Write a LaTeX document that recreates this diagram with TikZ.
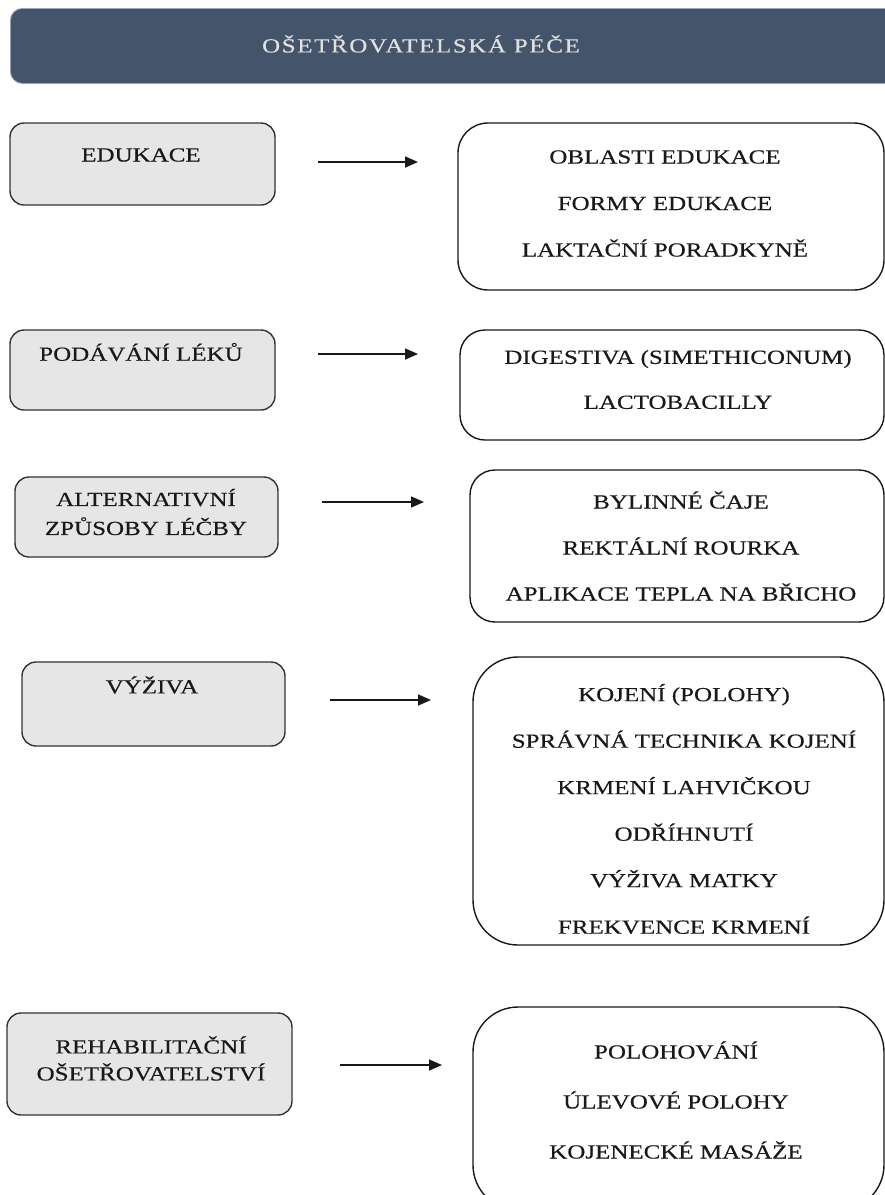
\documentclass[tikz,border=0pt]{standalone}
\usepackage{fontspec}
\setmainfont{Liberation Serif}[FakeStretch=1.25, FakeBold=0.4]
\usetikzlibrary{arrows.meta}
\definecolor{hlavicka}{HTML}{44546A}
\definecolor{okrajhl}{HTML}{8EA6C4}
\definecolor{sedabox}{HTML}{E7E6E6}

\begin{document}
\begin{tikzpicture}[x=1pt,y=-1pt,
	hlava/.style={fill=hlavicka, draw=okrajhl, line width=0.8pt, rounded corners=12pt},
	nadpis/.style={text=black!12, font=\fontsize{20}{24}\selectfont\addfontfeature{LetterSpace=8}},
	levy/.style={draw=black!80, fill=sedabox, line width=1.4pt, rounded corners=14pt},
	pravy/.style={draw=black!90, line width=1.4pt},
	popis/.style={text=black!90, align=center, font=\fontsize{20}{29}\selectfont},
	seznam/.style={text=black!90, align=center, font=\fontsize{20}{46.5}\selectfont},
	sipka/.style={draw=black!90, line width=1.6pt, -{Triangle[length=13pt,width=11pt]}}]
	\useasboundingbox (0,0) rectangle (885,1195);

	% Hlavicka
		\node[hlava, minimum width=920pt, minimum height=75pt, anchor=north west] (hlavicka) at (10,8) {};
		\node[nadpis] (nazev) at (421,44) {OŠETŘOVATELSKÁ PÉČE};

	% Edukace
		\node[levy, minimum width=265pt, minimum height=82pt] (edukace) at (142.5,164) {};
		\node[popis] (edukace-t) at (141,155) {EDUKACE};
		\node[pravy, rounded corners=30pt, minimum width=426pt, minimum height=167pt] (oblasti) at (671,206.5) {};
		\node[seznam] (oblasti-t) at (665,203.5) {OBLASTI EDUKACE\\FORMY EDUKACE\\LAKTAČNÍ PORADKYNĚ};
		\coordinate (s1a) at (318,162);
		\coordinate (s1b) at (418,162);
		\draw[sipka] (s1a) -- (s1b);

	% Podavani leku
		\node[levy, minimum width=265pt, minimum height=80pt] (leky) at (142.5,370) {};
		\node[popis] (leky-t) at (141,352) {PODÁVÁNÍ LÉKŮ};
		\node[pravy, rounded corners=25pt, minimum width=424pt, minimum height=110pt] (lecba) at (672,385) {};
		\node[seznam, font=\fontsize{20}{45}\selectfont] (lecba-t) at (678,379.5) {DIGESTIVA (SIMETHICONUM)\\LACTOBACILLY};
		\coordinate (s2a) at (318,354);
		\coordinate (s2b) at (418,354);
		\draw[sipka] (s2a) -- (s2b);

	% Alternativni zpusoby
		\node[levy, minimum width=263pt, minimum height=80pt] (alter) at (146.5,517) {};
		\node[popis] (alter-t) at (146,512) {ALTERNATIVNÍ\\ZPŮSOBY LÉČBY};
		\node[pravy, rounded corners=25pt, minimum width=414pt, minimum height=152pt] (caje) at (677,546) {};
		\node[seznam, font=\fontsize{20}{46}\selectfont] (caje-t) at (681,546) {BYLINNÉ ČAJE\\REKTÁLNÍ ROURKA\\APLIKACE TEPLA NA BŘICHO};
		\coordinate (s3a) at (322,502);
		\coordinate (s3b) at (424,502);
		\draw[sipka] (s3a) -- (s3b);

	% Vyziva
		\node[levy, minimum width=263pt, minimum height=84pt] (vyziva) at (153.5,704) {};
		\node[popis] (vyziva-t) at (152,685) {VÝŽIVA};
		\node[pravy, rounded corners=45pt, minimum width=411pt, minimum height=288pt] (kojeni) at (678.5,801) {};
		\node[seznam] (kojeni-t) at (684,809) {KOJENÍ (POLOHY)\\SPRÁVNÁ TECHNIKA KOJENÍ\\KRMENÍ LAHVIČKOU\\ODŘÍHNUTÍ\\VÝŽIVA MATKY\\FREKVENCE KRMENÍ};
		\coordinate (s4a) at (330,700);
		\coordinate (s4b) at (431,700);
		\draw[sipka] (s4a) -- (s4b);

	% Rehabilitace
		\node[levy, minimum width=285pt, minimum height=102pt] (rehab) at (149.5,1064) {};
		\node[popis, font=\fontsize{20}{27}\selectfont] (rehab-t) at (151,1058.5) {REHABILITAČNÍ\\OŠETŘOVATELSTVÍ};
		\node[pravy, rounded corners=45pt, minimum width=411pt, minimum height=203pt] (polohy) at (678.5,1108.5) {};
		\node[seznam, font=\fontsize{20}{50}\selectfont] (polohy-t) at (676,1100) {POLOHOVÁNÍ\\ÚLEVOVÉ POLOHY\\KOJENECKÉ MASÁŽE};
		\coordinate (s5a) at (340,1065);
		\coordinate (s5b) at (442,1065);
		\draw[sipka] (s5a) -- (s5b);
\end{tikzpicture}
\end{document}
